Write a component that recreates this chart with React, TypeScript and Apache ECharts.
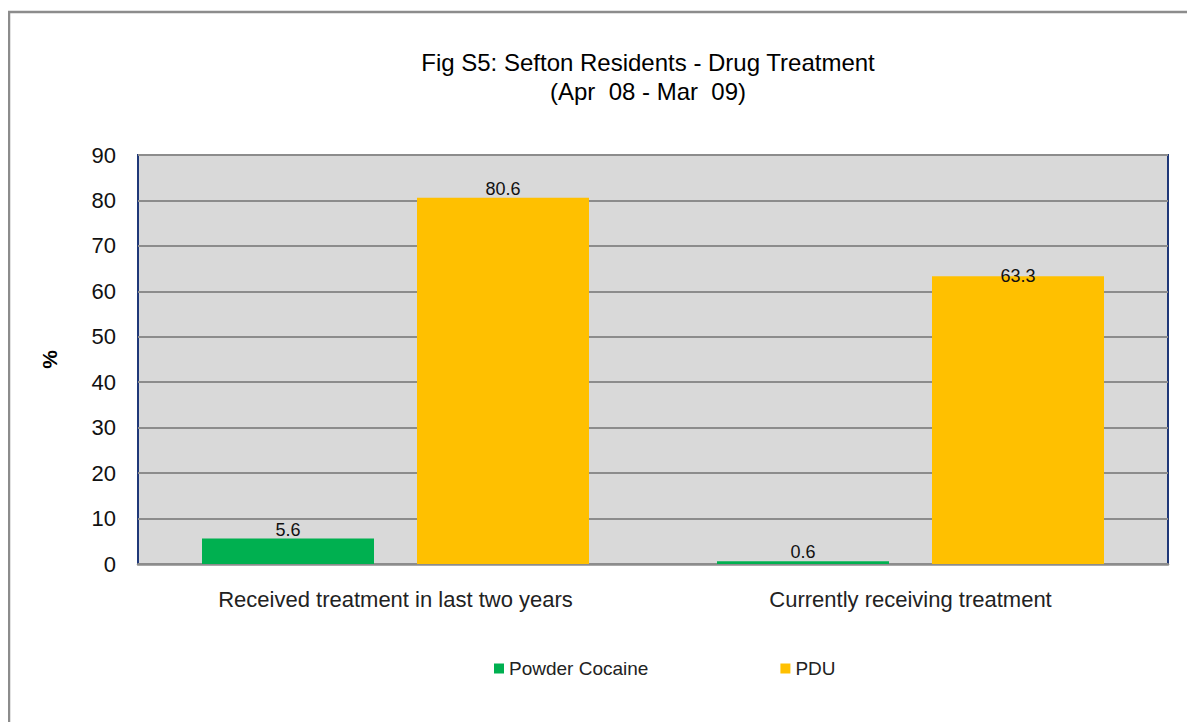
import React, { useEffect, useRef } from "react";
import * as echarts from "echarts";

const categories = ["Received treatment in last two years", "Currently receiving treatment"];
const powderCocaine = [5.6, 0.6];
const pdu = [80.6, 63.3];
const seriesNames = ["Powder Cocaine", "PDU"];
const titleText = "Fig S5: Sefton Residents - Drug Treatment\n(Apr  08 - Mar  09)";

const FONT = "'Liberation Sans', Arial, sans-serif";

export default function App() {
  const ref = useRef<HTMLDivElement>(null);
  useEffect(() => {
    if (!ref.current) return;
    const chart = echarts.init(ref.current, undefined, { renderer: "svg" });
    chart.setOption({
      animation: false,
      backgroundColor: "#ffffff",
      textStyle: { fontFamily: FONT },
      graphic: [
        {
          type: "rect",
          shape: { x: 1, y: 4, width: 1400, height: 1000 },
          style: { fill: "none", stroke: "#8c8c8c", lineWidth: 2.5 },
          silent: true,
        },
      ],
      title: {
        text: titleText,
        left: 635,
        top: 35,
        textAlign: "center",
        textStyle: { fontFamily: FONT, fontSize: 24, fontWeight: "normal", color: "#000", lineHeight: 29 },
      },
      legend: {
        data: seriesNames,
        left: 481,
        top: 646,
        itemWidth: 10,
        itemHeight: 10,
        itemGap: 132,
        icon: "rect",
        textStyle: { fontFamily: FONT, fontSize: 19, color: "#222" },
      },
      grid: {
        left: 130,
        top: 147,
        width: 1030,
        height: 409,
        show: true,
        backgroundColor: "#d9d9d9",
        borderColor: "#1f3878",
        borderWidth: 2,
      },
      xAxis: {
        type: "category",
        data: categories,
        axisLine: { show: true, lineStyle: { color: "#8c8c8c", width: 2.5 } },
        axisTick: { show: false },
        axisLabel: { fontFamily: FONT, fontSize: 22, color: "#222", margin: 24 },
      },
      yAxis: {
        type: "value",
        min: 0,
        max: 90,
        interval: 10,
        name: "%",
        nameLocation: "middle",
        nameRotate: 90,
        nameGap: 78,
        nameTextStyle: { fontFamily: FONT, fontSize: 21, fontWeight: "bold", color: "#000" },
        axisLine: { show: false },
        axisTick: { show: false },
        axisLabel: { fontFamily: FONT, fontSize: 22, color: "#111", margin: 22 },
        splitLine: { lineStyle: { color: "#8c8c8c", width: 2 } },
      },
      series: [
        {
          name: seriesNames[0],
          type: "bar",
          data: powderCocaine,
          barWidth: 172,
          barGap: "25%",
          itemStyle: { color: "#00b050" },
          label: { show: true, position: "top", distance: 0, fontFamily: FONT, fontSize: 18, color: "#111" },
        },
        {
          name: seriesNames[1],
          type: "bar",
          data: pdu.map((v, i) => (i === 1 ? { value: v, label: { offset: [0, 9] } } : v)),
          barWidth: 172,
          barGap: "25%",
          itemStyle: { color: "#ffc000" },
          label: { show: true, position: "top", distance: 0, fontFamily: FONT, fontSize: 18, color: "#111" },
        },
      ],
    });
    return () => chart.dispose();
  }, []);
  return <div ref={ref} style={{ width: 1187, height: 714 }} />;
}
